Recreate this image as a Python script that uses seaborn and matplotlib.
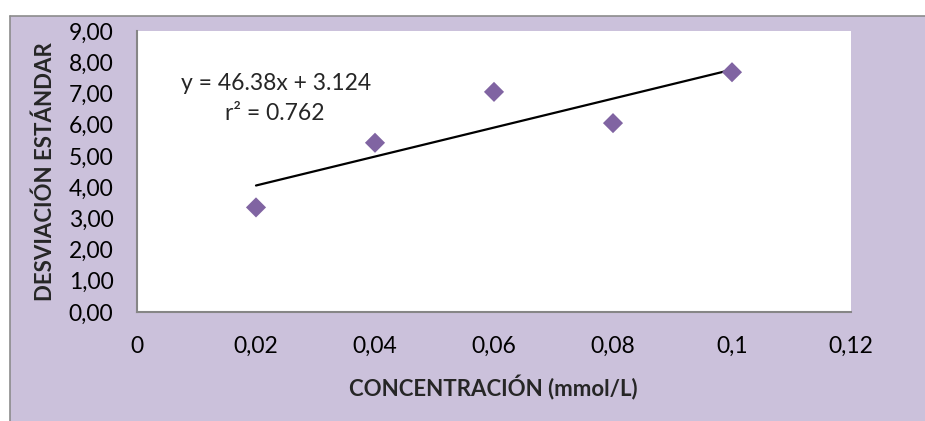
import matplotlib
matplotlib.use("Agg")
import matplotlib.pyplot as plt
from matplotlib.patches import Rectangle
from matplotlib.lines import Line2D
import seaborn as sns
import pandas as pd
import numpy as np

# Data: standard deviation versus concentration
concentracion = [0.02, 0.04, 0.06, 0.08, 0.10]
desviacion = [3.35, 5.42, 7.05, 6.05, 7.68]

# Linear trendline as reported in the equation label
pendiente = 46.38
intercepto = 3.124
r2 = 0.762

x_ticks = [0, 0.02, 0.04, 0.06, 0.08, 0.10, 0.12]
x_ticklabels = ["0", "0,02", "0,04", "0,06", "0,08", "0,1", "0,12"]
y_ticks = [0, 1, 2, 3, 4, 5, 6, 7, 8, 9]
y_ticklabels = ["0,00", "1,00", "2,00", "3,00", "4,00", "5,00", "6,00", "7,00", "8,00", "9,00"]

sns.set_theme(style="white")
plt.rcParams["font.family"] = ["Lato", "DejaVu Sans"]

W, H = 925, 421
fig = plt.figure(figsize=(W / 100, H / 100), dpi=100)
fig.patch.set_facecolor("white")

# Chart area background with border on top and left
lav = "#CBC1DB"
fig.patches.append(Rectangle((10 / W, 0), 1 - 10 / W, 1 - 16 / H, transform=fig.transFigure,
                             facecolor=lav, edgecolor="none", zorder=-10))
fig.lines.append(Line2D([10 / W, 1], [1 - 16 / H, 1 - 16 / H], transform=fig.transFigure,
                        color="#8c8c8c", lw=1.2, zorder=-9))
fig.lines.append(Line2D([10 / W, 10 / W], [0, 1 - 16 / H], transform=fig.transFigure,
                        color="#8c8c8c", lw=1.2, zorder=-9))

ax = fig.add_axes([137 / W, 1 - 312 / H, (851 - 137) / W, (312 - 31) / H])
ax.set_facecolor("white")

df = pd.DataFrame({"x": concentracion, "y": desviacion})
sns.scatterplot(data=df, x="x", y="y", ax=ax, marker="D", s=105, color="#8064A2",
                edgecolor="none", zorder=3)

xl = np.array([min(concentracion), max(concentracion)])
sns.lineplot(x=xl, y=pendiente * xl + intercepto, ax=ax, color="black", lw=1.6, zorder=2)

ax.set_xlim(0, 0.12)
ax.set_ylim(0, 9)
ax.set_xticks(x_ticks)
ax.set_xticklabels(x_ticklabels)
ax.set_yticks(y_ticks)
ax.set_yticklabels(y_ticklabels)
ax.tick_params(axis="both", length=0, labelsize=16.5, colors="black")
ax.tick_params(axis="x", pad=17)
ax.tick_params(axis="y", pad=17)

for side in ["top", "right"]:
    ax.spines[side].set_visible(False)
for side in ["left", "bottom"]:
    ax.spines[side].set_color("#868686")
    ax.spines[side].set_linewidth(1.5)

ax.set_xlabel("CONCENTRACIÓN (mmol/L)", fontsize=16, fontweight="bold")
ax.set_ylabel("DESVIACIÓN ESTÁNDAR", fontsize=16, fontweight="bold")
ax.xaxis.set_label_coords(0.499, -0.225)
ax.yaxis.set_label_coords(-0.113, 0.50)

ax.text(0.0234, 7.33, f"y = {pendiente}x + {intercepto}", fontsize=16.5, ha="center", va="center")
ax.text(0.0232, 6.37, f"r² = {r2}", fontsize=16.5, ha="center", va="center")

fig.savefig("out.png", dpi=100)
